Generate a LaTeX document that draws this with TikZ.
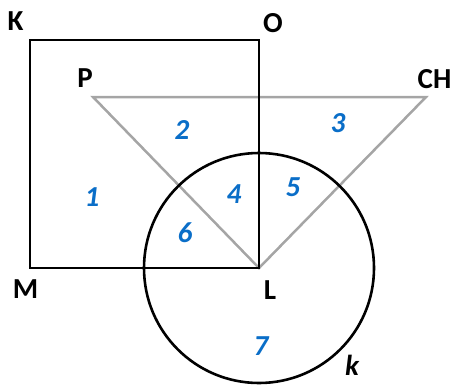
\documentclass[tikz,border=0pt]{standalone}
\usepackage{fontspec}
\setmainfont{Carlito}
\definecolor{numblue}{RGB}{10,110,200}
\definecolor{trigray}{RGB}{165,165,165}
\begin{document}
\begin{tikzpicture}[x=1pt,y=-1pt,
  lbl/.style={inner sep=0pt,font=\fontsize{29}{32}\selectfont\bfseries},
  num/.style={inner sep=0pt,text=numblue,font=\fontsize{29}{32}\selectfont\bfseries\itshape},
  blk/.style={line width=2.6pt,black},
  gry/.style={line width=2.5pt,trigray,line join=miter}]
\useasboundingbox (0,0) rectangle (454,385);
\coordinate (K) at (30,40);
\coordinate (O) at (259,40);
\coordinate (M) at (30,268);
\coordinate (L) at (259,268);
\coordinate (P) at (93,97);
\coordinate (CH) at (426,97);
\draw[gry] (P) -- (CH) -- (L) -- cycle;
\draw[blk] (L) -- (M) -- (K) -- (O) -- cycle;
\draw[blk] (L) circle[radius=115];
\node[lbl] (tK) at (15.5,21.5) {K};
\node[lbl] (tO) at (273,23) {O};
\node[lbl] (tP) at (85,78) {P};
\node[lbl] (tCH) at (434.5,79) {CH};
\node[lbl] (tM) at (25.5,289.5) {M};
\node[lbl] (tL) at (270,290) {L};
\node[lbl,font=\fontsize{29}{32}\selectfont\bfseries\itshape] (tk) at (352,365) {k};
\node[num] (n1) at (92,197) {1};
\node[num] (n2) at (182,130) {2};
\node[num] (n3) at (338,123) {3};
\node[num] (n4) at (234,194) {4};
\node[num] (n5) at (293,187) {5};
\node[num] (n6) at (185,233) {6};
\node[num] (n7) at (261,346) {7};
\end{tikzpicture}
\end{document}
